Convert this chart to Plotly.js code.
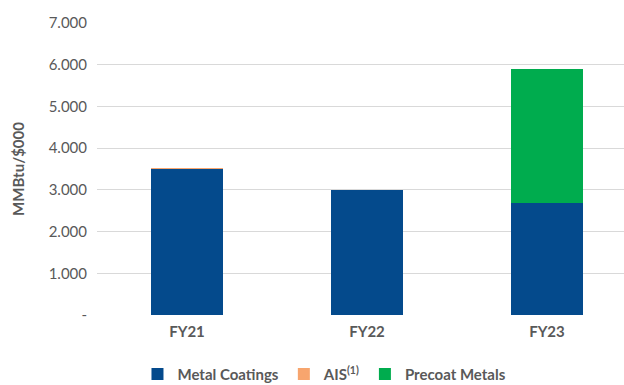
<!DOCTYPE html>
<html><head><meta charset="utf-8">
<script src="https://cdn.plot.ly/plotly-3.0.1.min.js"></script>
<style>html,body{margin:0;padding:0;background:#fff}#c{width:624px;height:385px}</style>
</head><body><div id="c"></div>
<script>
const categories = ["FY21", "FY22", "FY23"];
const metalCoatings = [3510, 3000, 2690];
const ais = [12, 0, 0];
const precoatMetals = [0, 0, 3210];
const tickValues = [0, 1000, 2000, 3000, 4000, 5000, 6000, 7000];
const tickLabels = ["-", "1.000", "2.000", "3.000", "4.000", "5.000", "6.000", "7.000"];

const font = "Lato, 'Open Sans', sans-serif";
const traces = [
  {type: "bar", name: "Metal Coatings", x: categories, y: metalCoatings, marker: {color: "#044A8C"}, width: 0.4},
  {type: "bar", name: "AIS<sup>(1)</sup>", x: categories, y: ais, marker: {color: "#F7A56E"}, width: 0.4},
  {type: "bar", name: "Precoat Metals", x: categories, y: precoatMetals, marker: {color: "#00AC4E"}, width: 0.4}
];
const layout = {
  width: 624, height: 385,
  margin: {l: 97, r: 0, t: 23, b: 70, autoexpand: false},
  barmode: "stack",
  paper_bgcolor: "#fff", plot_bgcolor: "#fff",
  font: {family: font, color: "#595959", size: 15},
  showlegend: true,
  legend: {orientation: "h", x: 0.52, xanchor: "center", xref: "container", y: 0.028, yanchor: "middle", yref: "container",
    font: {family: font, size: 15, color: "#595959", weight: "bold"}, traceorder: "normal",
    itemwidth: 30, tracegroupgap: 0},
  xaxis: {range: [-0.5, 2.428], showgrid: false, zeroline: false, showline: false, ticks: "", automargin: false,
    tickfont: {family: font, size: 15, color: "#595959", weight: "bold"}, ticklabelstandoff: 6},
  yaxis: {range: [0, 7000], tickvals: tickValues, ticktext: tickLabels, showgrid: true, automargin: false,
    gridcolor: "#D9D9D9", gridwidth: 1, zeroline: false, showline: false, ticks: "",
    tickfont: {family: font, size: 15, color: "#595959"}, ticklabelstandoff: 9,
    title: {text: "MMBtu/$000", font: {family: font, size: 15, color: "#595959", weight: "bold"}, standoff: 20}}
};
Plotly.newPlot("c", traces, layout, {displayModeBar: false, staticPlot: true});
</script></body></html>
